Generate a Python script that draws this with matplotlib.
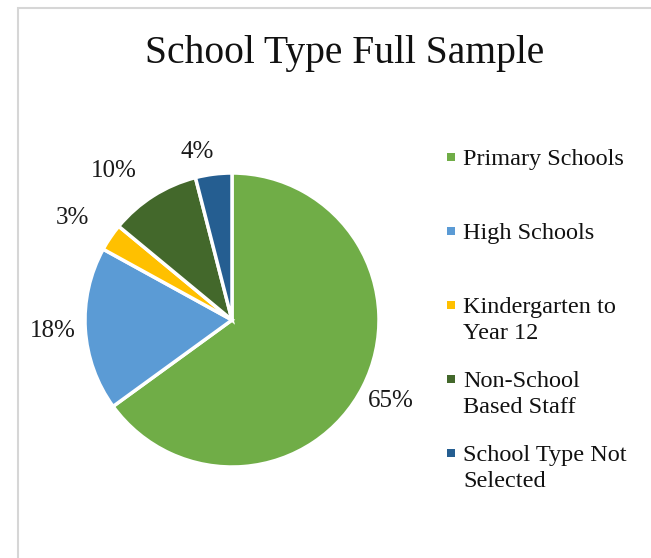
import matplotlib
matplotlib.use("Agg")
import matplotlib.pyplot as plt
from matplotlib.patches import Rectangle
import numpy as np

plt.rcParams['font.family'] = ['Liberation Serif', 'DejaVu Serif']

title = "School Type Full Sample"
categories = ["Primary Schools", "High Schools", "Kindergarten to\nYear 12",
              "Non-School\nBased Staff", "School Type Not\nSelected"]
values = [65, 18, 3, 10, 4]
colors = ["#70AD47", "#5B9BD5", "#FFC000", "#43682B", "#255E91"]
# label placement style: radial distance and angular nudge (degrees)
label_dist = [1.21, 1.22, 1.29, 1.29, 1.17]
label_nudge = [0, 0, 1.5, 6, 4.5]

W, H = 651, 558
fig = plt.figure(figsize=(W / 100, H / 100), dpi=100)
fig.patch.set_facecolor("white")

# chart frame (top and left edges visible)
fig.add_artist(Rectangle((18 / W, -0.1), 1.2, (H - 8) / H + 0.1, transform=fig.transFigure,
                         facecolor="none", edgecolor="#d6d6d6", linewidth=1.5))

cx, cy, r = 232, 320, 147
ax = fig.add_axes([(cx - r) / W, (H - cy - r) / H, 2 * r / W, 2 * r / H])
wedges, _ = ax.pie(values, colors=colors, startangle=90, counterclock=False,
                   radius=1.0, wedgeprops=dict(edgecolor="white", linewidth=2.5))
for w, v, d, nd in zip(wedges, values, label_dist, label_nudge):
    ang = np.deg2rad((w.theta1 + w.theta2) / 2 + nd)
    ax.text(d * np.cos(ang), d * np.sin(ang), f"{v}%", ha="center", va="center",
            fontsize=18, color="#1a1a1a")
ax.set_xlim(-1, 1)
ax.set_ylim(-1, 1)
ax.set_aspect("equal")
ax.axis("off")

fig.text(345 / W, 1 - 63 / H, title, ha="center", va="baseline", fontsize=28.5, color="#111111")

# legend
base0 = 165
step = 74
for i, (lab, c) in enumerate(zip(categories, colors)):
    b = base0 + i * step
    fig.add_artist(Rectangle((447 / W, 1 - (b - 4) / H), 8 / W, 8 / H,
                             transform=fig.transFigure, facecolor=c, edgecolor="none"))
    lines = lab.split("\n")
    for j, ln in enumerate(lines):
        fig.text(463 / W, 1 - (b + 26 * j) / H, ln, ha="left", va="baseline",
                 fontsize=17.5, color="#111111")

fig.savefig("out.png", dpi=100)
